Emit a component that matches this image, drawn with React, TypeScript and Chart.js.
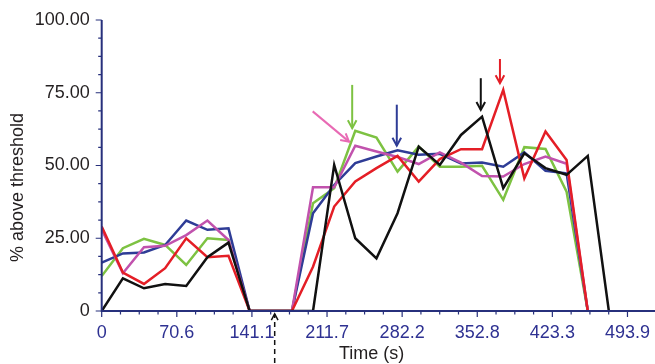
import React, { useEffect, useRef } from "react";
import { Chart, registerables } from "chart.js";

Chart.register(...registerables);

// Sample times (s)
const times = [0, 19.9, 39.7, 59.6, 79.4, 99.3, 119.1, 139.0, 158.8, 178.7, 198.5, 218.4, 238.2, 258.1, 277.9, 297.8, 317.6, 337.5, 357.3, 377.2, 397.0, 416.9, 436.7, 456.6, 476.4];

// % above threshold per series
const blackSeries = [0, 11.2, 7.8, 9.3, 8.6, 18.5, 23.5, 0, 0, 0, 0, 50.2, 25.0, 18.1, 33.6, 56.5, 50.2, 60.5, 66.8, 42.2, 54.2, 49.1, 46.8, 53.3, 0];
const redSeries = [29.0, 13.2, 9.3, 14.7, 25.0, 18.5, 19.0, 0, 0, 0, 15.2, 35.9, 44.5, 49.1, 53.3, 44.5, 52.2, 55.6, 55.6, 76.0, 45.6, 61.7, 51.9, 0, null];
const greenSeries = [12.0, 21.6, 24.8, 22.7, 15.8, 25.0, 24.4, 0, 0, 0, 37.0, 42.2, 61.9, 59.6, 47.9, 56.5, 49.6, 49.6, 49.9, 38.2, 56.3, 55.7, 41.0, 0, null];
const blueSeries = [16.6, 19.8, 20.1, 22.7, 31.1, 27.9, 28.4, 0, 0, 0, 33.6, 43.3, 50.8, 53.1, 55.2, 53.7, 54.0, 50.7, 51.0, 49.6, 54.5, 48.2, 47.3, 0, null];
const pinkSeries = [28.0, 13.0, 21.9, 22.4, 26.1, 31.1, 24.4, 0, 0, 0, 42.5, 42.5, 56.8, 54.8, 52.9, 50.5, 54.5, 51.0, 46.4, 46.2, 50.5, 53.1, 50.6, 0, null];

// Axis ticks
const xTickValues = [0, 70.56, 141.11, 211.67, 282.23, 352.79, 423.34, 493.9];
const xTickLabels = ["0", "70.6", "141.1", "211.7", "282.2", "352.8", "423.3", "493.9"];
const yTickValues = [0, 25, 50, 75, 100];
const yTickLabels = ["0", "25.00", "50.00", "75.00", "100.00"];

// Annotation arrows (data coordinates)
const arrowColors = ["#7dc242", "#2e3c96", "#111111", "#e41e26", "#e86ab4"];
const arrowFromX = [235.3, 277.2, 356.1, 374.1, 198.2];
const arrowFromY = [77.7, 70.9, 80.0, 86.6, 68.6];
const arrowToX = [235.3, 277.2, 356.1, 374.1, 232.3];
const arrowToY = [62.8, 56.8, 69.1, 78.3, 58.2];
// Dashed marker arrow below the axis
const markerX = 162.5;
const markerFromY = -17.9;
const markerToY = -1.0;

const xTitle = "Time (s)";
const yTitle = "% above threshold";

const FONT = "'Liberation Sans', Arial, Helvetica, sans-serif";
const AXIS_COLOR = "#27307c";

function drawArrow(ctx: CanvasRenderingContext2D, x1: number, y1: number, x2: number, y2: number, color: string, dashed: boolean) {
  const ang = Math.atan2(y2 - y1, x2 - x1);
  ctx.save();
  ctx.strokeStyle = color;
  ctx.lineWidth = dashed ? 1.5 : 2;
  ctx.lineCap = "butt";
  if (dashed) ctx.setLineDash([5, 4]);
  ctx.beginPath();
  ctx.moveTo(x1, y1);
  ctx.lineTo(x2, y2);
  ctx.stroke();
  ctx.setLineDash([]);
  const hl = dashed ? 7 : 9;
  const ha = 0.5;
  ctx.beginPath();
  ctx.moveTo(x2 - hl * Math.cos(ang - ha), y2 - hl * Math.sin(ang - ha));
  ctx.lineTo(x2, y2);
  ctx.lineTo(x2 - hl * Math.cos(ang + ha), y2 - hl * Math.sin(ang + ha));
  ctx.stroke();
  ctx.restore();
}

const decorPlugin = {
  id: "decor",
  afterDraw(chart: any) {
    const ctx: CanvasRenderingContext2D = chart.ctx;
    const xs = chart.scales.x;
    const ys = chart.scales.y;
    const x0 = xs.getPixelForValue(0);
    const y0 = ys.getPixelForValue(0);
    const yTop = ys.getPixelForValue(100);
    ctx.save();
    // axes
    ctx.strokeStyle = AXIS_COLOR;
    ctx.lineWidth = 2;
    ctx.beginPath();
    ctx.moveTo(x0 - 1, y0);
    ctx.lineTo(chart.width, y0);
    ctx.moveTo(x0, y0 + 1);
    ctx.lineTo(x0, yTop);
    ctx.stroke();
    // ticks
    ctx.lineWidth = 1.2;
    ctx.beginPath();
    for (let i = 0; i < xTickValues.length; i++) {
      const p = xs.getPixelForValue(xTickValues[i]);
      ctx.moveTo(p, y0);
      ctx.lineTo(p, y0 + 6);
      if (i < xTickValues.length - 1) {
        const step = (xTickValues[i + 1] - xTickValues[i]) / 4;
        for (let k = 1; k < 4; k++) {
          const q = xs.getPixelForValue(xTickValues[i] + k * step);
          ctx.moveTo(q, y0);
          ctx.lineTo(q, y0 + 3.5);
        }
      }
    }
    for (let i = 0; i < yTickValues.length; i++) {
      const p = ys.getPixelForValue(yTickValues[i]);
      ctx.moveTo(x0, p);
      ctx.lineTo(x0 - 6, p);
      if (i < yTickValues.length - 1) {
        const step = (yTickValues[i + 1] - yTickValues[i]) / 4;
        for (let k = 1; k < 4; k++) {
          const q = ys.getPixelForValue(yTickValues[i] + k * step);
          ctx.moveTo(x0, q);
          ctx.lineTo(x0 - 3.5, q);
        }
      }
    }
    ctx.stroke();
    ctx.restore();

    // arrows
    for (let i = 0; i < arrowColors.length; i++) {
      drawArrow(
        ctx,
        xs.getPixelForValue(arrowFromX[i]),
        ys.getPixelForValue(arrowFromY[i]),
        xs.getPixelForValue(arrowToX[i]),
        ys.getPixelForValue(arrowToY[i]),
        arrowColors[i],
        false
      );
    }
    drawArrow(
      ctx,
      xs.getPixelForValue(markerX),
      ys.getPixelForValue(markerFromY),
      xs.getPixelForValue(markerX),
      ys.getPixelForValue(markerToY),
      "#111111",
      true
    );

    // titles
    ctx.save();
    ctx.fillStyle = "#231f20";
    ctx.font = `18px ${FONT}`;
    ctx.textAlign = "center";
    ctx.textBaseline = "middle";
    ctx.fillText(xTitle, (xs.left + xs.right) / 2 + 7, 354);
    ctx.translate(18.5, (ys.top + ys.bottom) / 2 + 22);
    ctx.rotate(-Math.PI / 2);
    ctx.fillText(yTitle, 0, 0);
    ctx.restore();
  },
};

export default function App() {
  const canvasRef = useRef<HTMLCanvasElement | null>(null);

  useEffect(() => {
    if (!canvasRef.current) return;
    const mk = (label: string, data: (number | null)[], color: string, order: number) => ({
      label,
      data: times.map((t, i) => ({ x: t, y: data[i] })),
      borderColor: color,
      backgroundColor: color,
      borderWidth: 2.5,
      pointRadius: 0,
      tension: 0,
      fill: false,
      spanGaps: false,
      order,
    });
    const chart = new Chart(canvasRef.current, {
      type: "line",
      data: {
        datasets: [
          mk("Black", blackSeries, "#111111", 1),
          mk("Red", redSeries, "#e41e26", 2),
          mk("Magenta", pinkSeries, "#c152ad", 3),
          mk("Blue", blueSeries, "#2e3c96", 4),
          mk("Green", greenSeries, "#7dc242", 5),
        ],
      },
      options: {
        animation: false,
        responsive: false,
        devicePixelRatio: 1,
        layout: { padding: { top: 20, right: 21.7, left: 0, bottom: 0 } },
        plugins: { legend: { display: false }, tooltip: { enabled: false } },
        scales: {
          x: {
            type: "linear",
            min: 0,
            max: 493.9,
            afterBuildTicks: (s: any) => {
              s.ticks = xTickValues.map((v) => ({ value: v }));
            },
            afterFit: (s: any) => {
              s.height = 53;
            },
            ticks: {
              autoSkip: false,
              maxRotation: 0,
              minRotation: 0,
              padding: 5,
              color: "#2e3192",
              font: { family: FONT, size: 18 },
              callback: (_v: any, i: number) => xTickLabels[i],
            },
            grid: { display: false, drawTicks: true, tickLength: 6 },
            border: { display: false },
          },
          y: {
            type: "linear",
            min: 0,
            max: 100,
            afterBuildTicks: (s: any) => {
              s.ticks = yTickValues.map((v) => ({ value: v }));
            },
            afterFit: (s: any) => {
              s.width = 101.7;
            },
            ticks: {
              autoSkip: false,
              padding: 6,
              color: "#231f20",
              font: { family: FONT, size: 18 },
              callback: (_v: any, i: number) => yTickLabels[i],
            },
            grid: { display: false, drawTicks: true, tickLength: 6 },
            border: { display: false },
          },
        },
      },
      plugins: [decorPlugin],
    } as any);
    return () => chart.destroy();
  }, []);

  return (
    <div style={{ position: "absolute", left: 0, top: 0, width: 655, height: 364, background: "#fff" }}>
      <canvas ref={canvasRef} width={655} height={364} style={{ display: "block" }} />
    </div>
  );
}
